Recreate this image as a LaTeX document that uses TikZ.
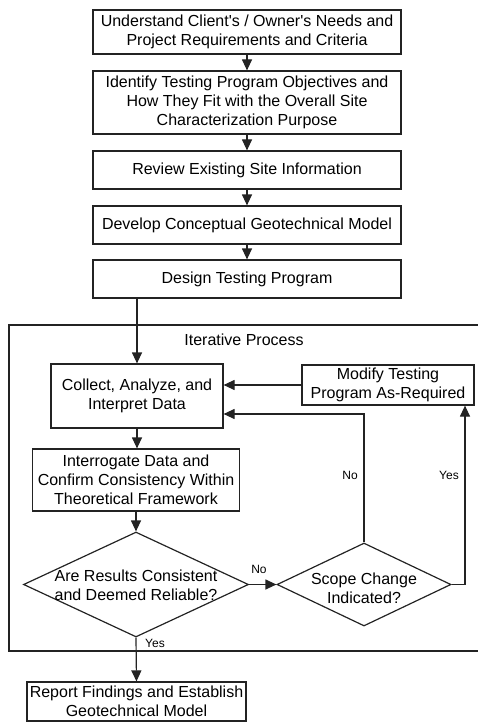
\documentclass[tikz,border=0pt]{standalone}
\usepackage{fontspec}
\setmainfont{Liberation Sans}
\usetikzlibrary{shapes.geometric,arrows.meta}
\definecolor{ink}{RGB}{35,35,35}
\begin{document}
\begin{tikzpicture}[x=1pt,y=-1pt, line width=1.2pt, draw=ink,
  box/.style={draw, rectangle, align=center, inner sep=0pt, font=\fontsize{16}{19}\selectfont},
  dia/.style={draw, diamond, inner sep=0pt},
  txt/.style={align=center, inner sep=0pt, font=\fontsize{16}{19}\selectfont},
  lbl/.style={inner sep=0pt, font=\fontsize{12}{14}\selectfont},
  arr/.style={-{Triangle[width=10pt,length=11pt]}}]
\useasboundingbox (0,0) rectangle (478,722);
% frame of the iterative process
\draw (478,325) -- (9,325) -- (9,651) -- (478,651);
\node[txt] (iter) at (244,340) {Iterative Process};
% boxes
\node[box, minimum width=308pt, minimum height=44pt] (b1) at (247,32) {Understand Client\textquotesingle s / Owner\textquotesingle s Needs and\\Project Requirements and Criteria};
\node[box, minimum width=308pt, minimum height=63pt] (b2) at (247,102.5) {Identify Testing Program Objectives and\\How They Fit with the Overall Site\\Characterization Purpose};
\node[box, minimum width=308pt, minimum height=38pt] (b3) at (247,170) {Review Existing Site Information};
\node[box, minimum width=308pt, minimum height=38pt] (b4) at (247,225) {Develop Conceptual Geotechnical Model};
\node[box, minimum width=308pt, minimum height=38pt] (b5) at (247,279) {Design Testing Program};
\node[box, minimum width=172pt, minimum height=64pt] (collect) at (137,396) {Collect, Analyze, and\\Interpret Data};
\node[box, minimum width=172pt, minimum height=40pt] (modify) at (388,385) {Modify Testing\\Program As-Required};
\node[box, minimum width=207pt, minimum height=62pt] (inter) at (136,480) {Interrogate Data and\\Confirm Consistency Within\\Theoretical Framework};
\node[dia, minimum width=225pt, minimum height=105pt] (d1) at (136,584.5) {};
\node[txt] (d1t) at (136,585) {Are Results Consistent\\and Deemed Reliable?};
\node[dia, minimum width=174pt, minimum height=83pt] (d2) at (364,584.5) {};
\node[txt] (d2t) at (364,588) {Scope Change\\Indicated?};
\node[box, minimum width=219pt, minimum height=39pt] (report) at (136.5,701.5) {Report Findings and Establish\\Geotechnical Model};
% connectors
\draw[arr] (b1) -- (b2);
\draw[arr] (b2) -- (b3);
\draw[arr] (b3) -- (b4);
\draw[arr] (b4) -- (b5);
\draw[arr] (b5.south -| collect.north) -- (collect.north);
\draw[arr] (modify.west) -- (modify.west -| collect.east);
\draw[arr] (collect.south) -- (collect.south |- inter.north);
\draw[arr] (inter.south -| d1.north) -- (d1.north);
\draw[arr] (d1.east) -- (d2.west);
\draw[arr] (d2.north) |- ([yshift=-18pt]collect.east);
\draw[arr] (d2.east) -| ([xshift=77pt]modify.south);
\draw[arr] (d1.south) -- (report.north);
% labels
\node[lbl] (no1) at (259,569) {No};
\node[lbl] (no2) at (350,475) {No};
\node[lbl] (yes1) at (449,475) {Yes};
\node[lbl] (yes2) at (155,643) {Yes};
\end{tikzpicture}
\end{document}
